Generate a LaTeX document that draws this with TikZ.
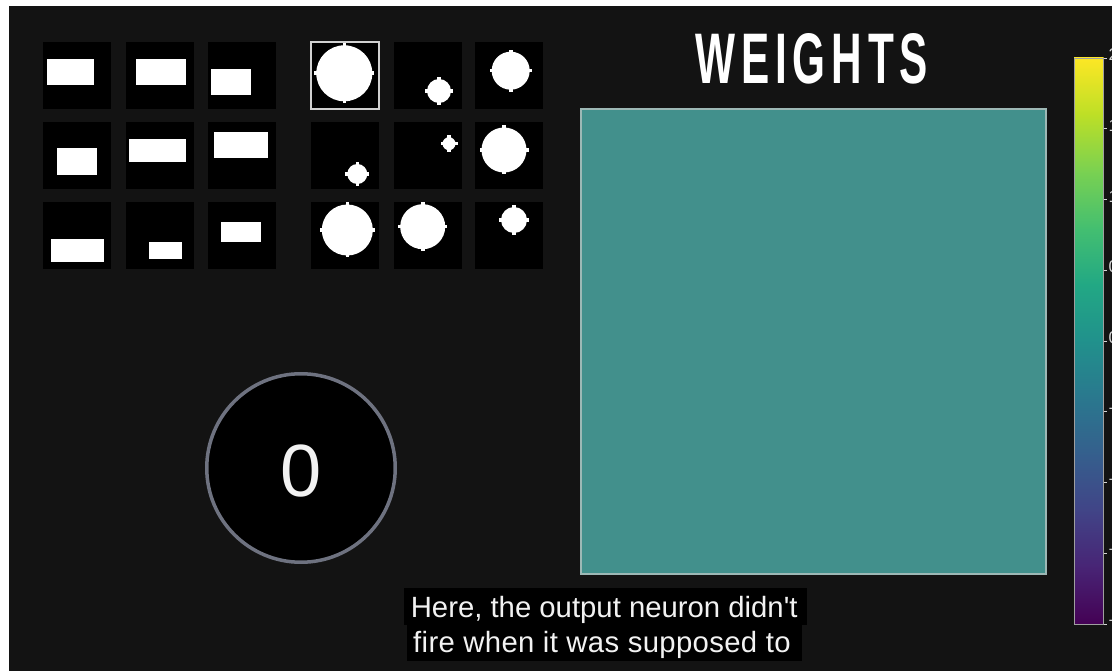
\documentclass[tikz,border=0pt]{standalone}
\usepackage{graphicx}
\usepackage{fontspec}
\setmainfont{Liberation Sans}[Ligatures=TeXOff]
\definecolor{bgc}{HTML}{131313}
\definecolor{tealc}{HTML}{42908C}
\definecolor{tealborder}{HTML}{9DB8B5}
\definecolor{ringc}{HTML}{6E7280}
\definecolor{selc}{HTML}{D0D0D0}
\definecolor{labc}{HTML}{D6D6D6}
\definecolor{subc}{HTML}{F2F2F2}
\definecolor{v0}{HTML}{440154}
\definecolor{v1}{HTML}{482475}
\definecolor{v2}{HTML}{414487}
\definecolor{v3}{HTML}{355F8D}
\definecolor{v4}{HTML}{2A788E}
\definecolor{v5}{HTML}{21918C}
\definecolor{v6}{HTML}{22A884}
\definecolor{v7}{HTML}{44BF70}
\definecolor{v8}{HTML}{7AD151}
\definecolor{v9}{HTML}{BDDF26}
\definecolor{v10}{HTML}{FDE725}
\newcommand\myblob[3]{%
  \fill[white] (#1,#2) circle[radius=#3pt];
  \fill[white] ({#1-#3-2},{#2-1.8}) rectangle ({#1+#3+2},{#2+1.8});
  \fill[white] ({#1-1.8},{#2-#3-2}) rectangle ({#1+1.8},{#2+#3+2});
}
\begin{document}
\begin{tikzpicture}[x=1pt,y=-1pt,
  tile/.style={fill=black},
  ink/.style={fill=white},
  ticklab/.style={anchor=mid west, inner sep=0pt, text=labc, font=\fontsize{17}{20}\selectfont},
  subline/.style={anchor=base, inner sep=0pt, text=subc, font=\fontsize{29.3}{36}\selectfont}]
\useasboundingbox (0,0) rectangle (1112,671);
\fill[white] (0,0) rectangle (1112,671);
\fill[bgc] (9,6) rectangle (1112,671);

% rectangle tiles
\foreach \x in {43,125.5,207.5}
  \foreach \y in {42,122,202}
    \fill[tile] (\x,\y) rectangle ++(68,67);
\fill[ink] (47.3,59) rectangle (94,85);
\fill[ink] (135.7,59) rectangle (185.7,85);
\fill[ink] (211,68.7) rectangle (251,95.3);
\fill[ink] (57.3,148.3) rectangle (97.3,175.3);
\fill[ink] (129,138.7) rectangle (185.7,162);
\fill[ink] (214.3,131.7) rectangle (267.7,158.3);
\fill[ink] (50.7,238.7) rectangle (104,262);
\fill[ink] (149,241.7) rectangle (182.3,258.7);
\fill[ink] (221,222) rectangle (261,242);

% circle tiles
\foreach \x in {311,393.5,475}
  \foreach \y in {42,122,202}
    \fill[tile] (\x,\y) rectangle ++(68,67);
\myblob{344.3}{73.3}{28}
\myblob{439}{91}{12}
\myblob{510.7}{70.7}{19}
\myblob{357.3}{174}{10}
\myblob{449}{143.7}{6.5}
\myblob{504}{150}{22.5}
\myblob{347.3}{230}{25.5}
\myblob{422.7}{226.7}{22.5}
\myblob{514}{220}{13}
\draw[selc, line width=1.5pt] (311,42) rectangle (379,109);

% weights
\node[anchor=south west, inner sep=0pt, text=white] (title) at (695,84)
  {\resizebox{233pt}{50pt}{\bfseries\addfontfeature{LetterSpace=14}WEIGHTS}};
\draw[fill=tealc, draw=tealborder, line width=1.2pt] (581,109) rectangle (1046,574);

% colorbar
\foreach \i [evaluate=\i as \j using int(\i+1)] in {0,...,9}
  \shade[bottom color=v\i, top color=v\j]
    (1074,{624-\i*56.6+0.4}) rectangle (1103.5,{624-(\i+1)*56.6-0.4});
\draw[gray!75, line width=0.8pt] (1074,58) rectangle (1103.5,624);
\foreach \k/\lab in {0/2,1/1.5,2/1,3/0.5,4/0,5/−0.5,6/−1,7/−1.5,8/−2}{
  \draw[labc, line width=0.8pt] (1103.5,{58+\k*70.75}) -- ++(3.5,0);
  \node[ticklab] (lab\k) at (1108.5,{58+\k*70.75}) {\lab};
}

% neuron
\node[circle, draw=ringc, line width=3.5pt, fill=black, minimum size=188.5pt, inner sep=0pt] (neuron) at (301,468) {};
\node[anchor=base, inner sep=0pt, text=subc, font=\fontsize{74}{80}\selectfont] (val) at (300.7,496.7) {0};

% subtitle
\fill[black] (404,588) rectangle (807,625);
\fill[black] (407,625) rectangle (802,661);
\node[subline] (sub1) at (604.2,617.3) {Here, the output neuron didn't};
\node[subline] (sub2) at (601.9,652.7) {\addfontfeature{LetterSpace=1.2}fire when it was supposed to};
\end{tikzpicture}
\end{document}
